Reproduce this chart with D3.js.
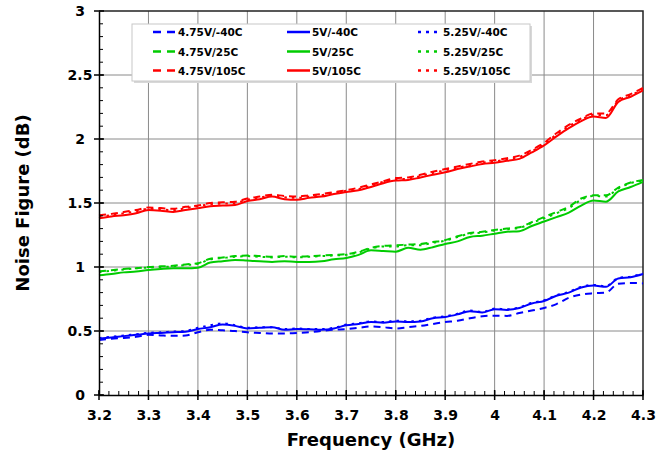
<!DOCTYPE html>
<html>
<head>
<meta charset="utf-8">
<script src="https://cdn.jsdelivr.net/npm/d3@7"></script>
<style>
  body { margin: 0; background: #fff; }
  text { font-family: "DejaVu Sans", Verdana, sans-serif; font-weight: bold; fill: #000; }
</style>
</head>
<body>
<script>
// frequency points (GHz)
var freq = [3.2, 3.225, 3.25, 3.275, 3.3, 3.325, 3.35, 3.375, 3.4, 3.425, 3.45, 3.475, 3.5, 3.525, 3.55,
  3.575, 3.6, 3.625, 3.65, 3.675, 3.7, 3.725, 3.75, 3.775, 3.8, 3.825, 3.85, 3.875, 3.9, 3.925,
  3.95, 3.975, 4.0, 4.025, 4.05, 4.075, 4.1, 4.125, 4.15, 4.175, 4.2, 4.225, 4.25, 4.275, 4.3];

var nf475m40 = [0.43, 0.44, 0.445, 0.455, 0.47, 0.465, 0.462, 0.465, 0.49, 0.51, 0.505, 0.5, 0.49, 0.485, 0.48,
  0.48, 0.485, 0.49, 0.5, 0.51, 0.515, 0.525, 0.535, 0.53, 0.52, 0.53, 0.54, 0.555, 0.57, 0.58,
  0.6, 0.615, 0.62, 0.618, 0.64, 0.66, 0.68, 0.71, 0.76, 0.785, 0.795, 0.8, 0.87, 0.875, 0.872];
var nf5m40 = [0.44, 0.45, 0.46, 0.47, 0.48, 0.485, 0.49, 0.495, 0.515, 0.53, 0.55, 0.54, 0.52, 0.525, 0.53,
  0.51, 0.515, 0.513, 0.51, 0.52, 0.545, 0.555, 0.57, 0.565, 0.575, 0.57, 0.575, 0.6, 0.61, 0.63,
  0.655, 0.645, 0.67, 0.665, 0.68, 0.715, 0.735, 0.775, 0.8, 0.84, 0.855, 0.845, 0.91, 0.92, 0.945];
var nf525m40 = [0.445, 0.455, 0.465, 0.475, 0.485, 0.49, 0.495, 0.5, 0.525, 0.545, 0.56, 0.545, 0.525, 0.53, 0.53,
  0.515, 0.52, 0.515, 0.515, 0.525, 0.55, 0.56, 0.575, 0.57, 0.58, 0.575, 0.58, 0.605, 0.615, 0.635,
  0.66, 0.65, 0.675, 0.67, 0.685, 0.72, 0.74, 0.78, 0.805, 0.845, 0.86, 0.85, 0.915, 0.925, 0.95];

var nf475r = [0.965, 0.975, 0.985, 0.99, 1.0, 1.005, 1.01, 1.02, 1.03, 1.065, 1.075, 1.085, 1.09, 1.085, 1.08,
  1.085, 1.08, 1.085, 1.09, 1.095, 1.1, 1.12, 1.15, 1.165, 1.17, 1.175, 1.18, 1.195, 1.21, 1.24,
  1.265, 1.275, 1.29, 1.3, 1.31, 1.35, 1.39, 1.43, 1.47, 1.535, 1.56, 1.56, 1.62, 1.66, 1.68];
var nf5r = [0.935, 0.945, 0.958, 0.965, 0.977, 0.985, 0.99, 0.99, 0.995, 1.035, 1.045, 1.055, 1.05, 1.045, 1.04,
  1.045, 1.04, 1.04, 1.045, 1.06, 1.07, 1.095, 1.13, 1.125, 1.12, 1.15, 1.135, 1.155, 1.18, 1.2,
  1.235, 1.245, 1.26, 1.275, 1.28, 1.32, 1.355, 1.39, 1.425, 1.48, 1.52, 1.51, 1.59, 1.625, 1.665];
var nf525r = [0.96, 0.97, 0.98, 0.99, 0.995, 1.0, 1.005, 1.015, 1.025, 1.06, 1.07, 1.08, 1.085, 1.08, 1.075,
  1.08, 1.075, 1.08, 1.085, 1.09, 1.095, 1.115, 1.145, 1.16, 1.16, 1.17, 1.17, 1.19, 1.205, 1.235,
  1.26, 1.27, 1.285, 1.295, 1.305, 1.345, 1.38, 1.42, 1.46, 1.525, 1.555, 1.55, 1.615, 1.655, 1.675];

var nf475h = [1.405, 1.415, 1.43, 1.445, 1.465, 1.46, 1.455, 1.47, 1.48, 1.5, 1.505, 1.51, 1.535, 1.55, 1.565,
  1.555, 1.55, 1.56, 1.57, 1.585, 1.6, 1.62, 1.645, 1.67, 1.695, 1.7, 1.72, 1.745, 1.765, 1.785,
  1.805, 1.825, 1.835, 1.85, 1.87, 1.915, 1.97, 2.045, 2.11, 2.16, 2.2, 2.2, 2.31, 2.35, 2.4];
var nf5h = [1.38, 1.395, 1.405, 1.42, 1.445, 1.44, 1.43, 1.445, 1.46, 1.475, 1.48, 1.485, 1.515, 1.53, 1.55,
  1.53, 1.525, 1.54, 1.55, 1.57, 1.585, 1.6, 1.625, 1.655, 1.675, 1.68, 1.7, 1.72, 1.74, 1.765,
  1.785, 1.805, 1.815, 1.83, 1.845, 1.895, 1.95, 2.02, 2.085, 2.14, 2.175, 2.165, 2.29, 2.33, 2.38];
var nf525h = [1.395, 1.405, 1.42, 1.435, 1.455, 1.45, 1.445, 1.46, 1.475, 1.49, 1.495, 1.5, 1.525, 1.54, 1.56,
  1.545, 1.54, 1.55, 1.56, 1.58, 1.595, 1.61, 1.635, 1.665, 1.685, 1.69, 1.71, 1.735, 1.755, 1.775,
  1.795, 1.815, 1.825, 1.84, 1.86, 1.905, 1.96, 2.035, 2.1, 2.15, 2.19, 2.185, 2.3, 2.34, 2.39];

var names = ['4.75V/-40C', '5V/-40C', '5.25V/-40C',
  '4.75V/25C', '5V/25C', '5.25V/25C',
  '4.75V/105C', '5V/105C', '5.25V/105C'];
var values = [nf475m40, nf5m40, nf525m40, nf475r, nf5r, nf525r, nf475h, nf5h, nf525h];
var colors = ['#0000ff', '#00cc00', '#ff0000'];
var dashes = ['7,5', null, '2.5,5'];

var xTicks = [3.2, 3.3, 3.4, 3.5, 3.6, 3.7, 3.8, 3.9, 4.0, 4.1, 4.2, 4.3];
var yTicks = [0, 0.5, 1, 1.5, 2, 2.5, 3];

var W = 672, H = 459;
var pL = 99, pR = 643, pT = 11, pB = 395;

var svg = d3.select('body').append('svg')
  .attr('width', W)
  .attr('height', H);

svg.append('rect').attr('width', W).attr('height', H).attr('fill', '#fff');

var x = d3.scaleLinear().domain([3.2, 4.3]).range([pL, pR]);
var y = d3.scaleLinear().domain([0, 3]).range([pB, pT]);

// grid
svg.append('g').selectAll('line').data(xTicks.slice(1, -1)).enter().append('line')
  .attr('x1', function(d) { return x(d); })
  .attr('x2', function(d) { return x(d); })
  .attr('y1', pT).attr('y2', pB)
  .attr('stroke', '#8a8a8a').attr('stroke-width', 1);
svg.append('g').selectAll('line').data(yTicks.slice(1, -1)).enter().append('line')
  .attr('x1', pL).attr('x2', pR)
  .attr('y1', function(d) { return y(d); })
  .attr('y2', function(d) { return y(d); })
  .attr('stroke', '#8a8a8a').attr('stroke-width', 1);

// frame top + right
svg.append('path')
  .attr('d', 'M' + pL + ',' + pT + 'H' + pR + 'V' + pB)
  .attr('fill', 'none').attr('stroke', '#222').attr('stroke-width', 1.5);

// series
var line = d3.line()
  .x(function(d) { return x(d[0]); })
  .y(function(d) { return y(d[1]); })
  .curve(d3.curveMonotoneX);

var plot = svg.append('g');
values.forEach(function(vals, i) {
  var pts = freq.map(function(f, k) { return [f, vals[k]]; });
  plot.append('path')
    .attr('d', line(pts))
    .attr('fill', 'none')
    .attr('stroke', colors[Math.floor(i / 3)])
    .attr('stroke-width', 2)
    .attr('stroke-dasharray', dashes[i % 3]);
});

// axes
var xAxis = d3.axisBottom(x).tickValues(xTicks).tickSize(0).tickFormat(function(d) { return d; });
var gx = svg.append('g').attr('transform', 'translate(0,' + pB + ')').call(xAxis);
gx.select('.domain').attr('stroke', '#000').attr('stroke-width', 1.5);
gx.selectAll('text').attr('y', 15).attr('font-size', 14);

var yAxis = d3.axisLeft(y).tickValues(yTicks).tickSize(0).tickFormat(function(d) { return d; });
var gy = svg.append('g').attr('transform', 'translate(' + pL + ',0)').call(yAxis);
gy.select('.domain').attr('stroke', '#000').attr('stroke-width', 1.5);
gy.selectAll('text').attr('x', -19).attr('text-anchor', 'middle').attr('dy', '0.35em').attr('font-size', 14);

// ticks (major cross, minor inside)
var xMinor = d3.range(0, 56).map(function(k) { return 3.2 + k * 0.02; });
svg.append('g').selectAll('line').data(xMinor).enter().append('line')
  .attr('x1', function(d) { return x(d); })
  .attr('x2', function(d) { return x(d); })
  .attr('y1', pB).attr('y2', pB - 4)
  .attr('stroke', '#000').attr('stroke-width', 1);
svg.append('g').selectAll('line').data(xTicks).enter().append('line')
  .attr('x1', function(d) { return x(d); })
  .attr('x2', function(d) { return x(d); })
  .attr('y1', pB - 5).attr('y2', pB + 5)
  .attr('stroke', '#000').attr('stroke-width', 1.5);

var yMinor = d3.range(0, 30).map(function(k) { return k * 0.1; });
svg.append('g').selectAll('line').data(yMinor).enter().append('line')
  .attr('x1', pL).attr('x2', pL + 4)
  .attr('y1', function(d) { return y(d); })
  .attr('y2', function(d) { return y(d); })
  .attr('stroke', '#000').attr('stroke-width', 1);
svg.append('g').selectAll('line').data(yTicks).enter().append('line')
  .attr('x1', pL - 5).attr('x2', pL + 5)
  .attr('y1', function(d) { return y(d); })
  .attr('y2', function(d) { return y(d); })
  .attr('stroke', '#000').attr('stroke-width', 1.5);

// axis titles
svg.append('text')
  .attr('x', (pL + pR) / 2).attr('y', 446)
  .attr('text-anchor', 'middle').attr('font-size', 18)
  .text('Frequency (GHz)');
svg.append('text')
  .attr('transform', 'translate(29,' + ((pT + pB) / 2) + ') rotate(-90)')
  .attr('text-anchor', 'middle').attr('font-size', 18)
  .text('Noise Figure (dB)');

// legend
var lg = svg.append('g');
lg.append('rect')
  .attr('x', 134).attr('y', 26).attr('width', 398).attr('height', 57)
  .attr('fill', '#d8d8d8');
lg.append('rect')
  .attr('x', 132).attr('y', 24).attr('width', 398).attr('height', 57)
  .attr('fill', '#fff').attr('stroke', '#c8c8c8').attr('stroke-width', 1);

var colX = [153, 287, 418];
var rowY = [32, 51.5, 70.5];
names.forEach(function(n, i) {
  var c = i % 3, r = Math.floor(i / 3);
  lg.append('line')
    .attr('x1', colX[c]).attr('x2', colX[c] + 23)
    .attr('y1', rowY[r]).attr('y2', rowY[r])
    .attr('stroke', colors[r])
    .attr('stroke-width', 2.5)
    .attr('stroke-dasharray', c === 0 ? '8,6' : (c === 2 ? '3,5' : null));
  lg.append('text')
    .attr('x', colX[c] + 25).attr('y', rowY[r] + 4)
    .attr('font-size', 10.5)
    .text(n);
});
</script>
</body>
</html>
